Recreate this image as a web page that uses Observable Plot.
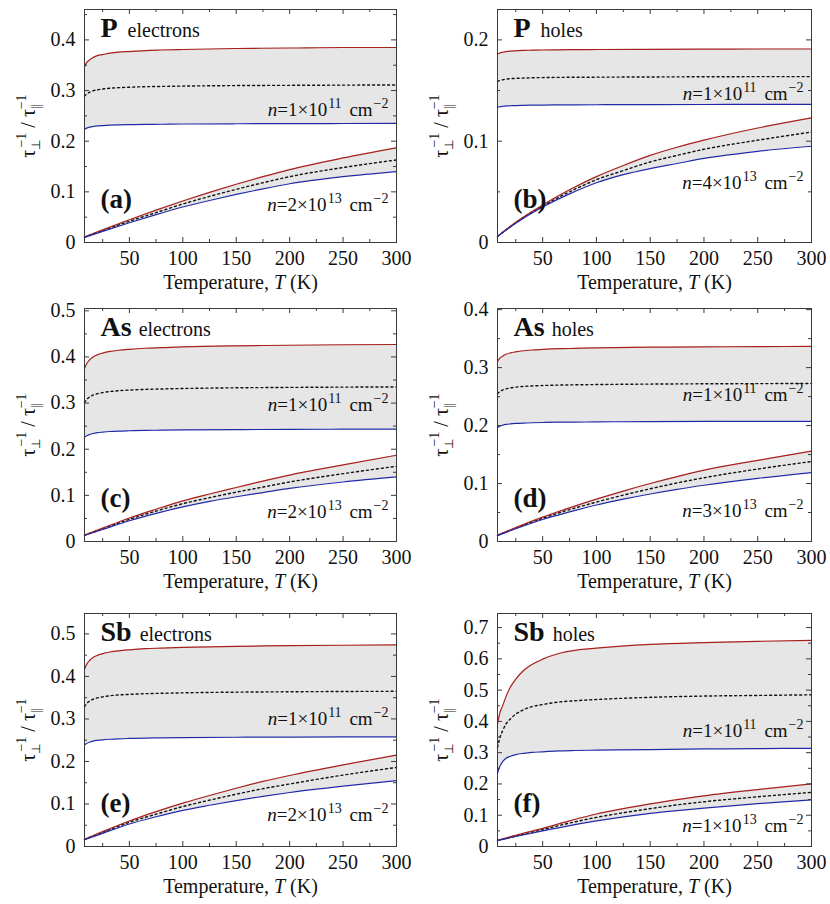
<!DOCTYPE html>
<html>
<head>
<meta charset="utf-8">
<script src="https://cdn.jsdelivr.net/npm/d3@7"></script>
<script src="https://cdn.jsdelivr.net/npm/@observablehq/plot@0.6"></script>
<style>
  html, body { margin: 0; padding: 0; background: #fff; }
  #wrap { position: relative; width: 830px; height: 904px; overflow: hidden; }
  #wrap svg { position: absolute; font-family: "Liberation Serif", serif !important; }
  #wrap svg text, #wrap svg tspan { font-family: "Liberation Serif", serif; }
</style>
</head>
<body>
<div id="wrap"></div>
<script>
// ---------------- data ----------------
// temperature grids (K)
const T_lowN = [8, 10, 13, 16, 20, 25, 32, 40, 50, 65, 80, 100, 150, 200, 250, 300];   // n = 1e11 band
const T_highN = [8, 25, 50, 75, 100, 125, 150, 175, 200, 250, 300];                    // high-n band

// axis tick values
const xTicksMajor = [50, 100, 150, 200, 250, 300];
const xTicksMinor = [25, 75, 125, 175, 225, 275];
const yTicks_a = [0, 0.1, 0.2, 0.3, 0.4];
const yMinor_a = [0.05, 0.15, 0.25, 0.35, 0.45];
const yTicks_b = [0, 0.1, 0.2];
const yMinor_b = [0.05, 0.15];
const yTicks_c = [0, 0.1, 0.2, 0.3, 0.4, 0.5];
const yMinor_c = [0.05, 0.15, 0.25, 0.35, 0.45];
const yTicks_d = [0, 0.1, 0.2, 0.3, 0.4];
const yMinor_d = [0.05, 0.15, 0.25, 0.35];
const yTicks_e = [0, 0.1, 0.2, 0.3, 0.4, 0.5];
const yMinor_e = [0.05, 0.15, 0.25, 0.35, 0.45];
const yTicks_f = [0, 0.1, 0.2, 0.3, 0.4, 0.5, 0.6, 0.7];
const yMinor_f = [0.05, 0.15, 0.25, 0.35, 0.45, 0.55, 0.65];

// (a) P electrons
const P_e_lowN_max = [0.347, 0.355, 0.361, 0.365, 0.369, 0.371, 0.374, 0.376, 0.377, 0.379, 0.380, 0.381, 0.383, 0.384, 0.385, 0.385];
const P_e_lowN_avg = [0.289, 0.293, 0.297, 0.2995, 0.3015, 0.303, 0.3045, 0.3057, 0.3066, 0.3076, 0.3081, 0.3088, 0.3098, 0.3103, 0.3107, 0.311];
const P_e_lowN_min = [0.2235, 0.2258, 0.2278, 0.229, 0.2301, 0.2309, 0.2317, 0.2322, 0.2327, 0.2332, 0.2335, 0.2339, 0.2344, 0.2347, 0.2349, 0.235];
const P_e_highN_max = [0.011, 0.025, 0.045, 0.064, 0.082, 0.099, 0.115, 0.130, 0.144, 0.167, 0.187];
const P_e_highN_avg = [0.0105, 0.0235, 0.042, 0.059, 0.076, 0.091, 0.105, 0.118, 0.130, 0.148, 0.163];
const P_e_highN_min = [0.010, 0.022, 0.039, 0.055, 0.070, 0.083, 0.095, 0.106, 0.116, 0.130, 0.140];

// (b) P holes
const P_h_lowN_max = [0.186, 0.187, 0.1878, 0.1884, 0.1889, 0.1892, 0.1896, 0.1898, 0.19, 0.1902, 0.1904, 0.1905, 0.1907, 0.1909, 0.191, 0.191];
const P_h_lowN_avg = [0.159, 0.1599, 0.1607, 0.1613, 0.1617, 0.162, 0.1623, 0.1626, 0.1628, 0.163, 0.1631, 0.1632, 0.1634, 0.1636, 0.1637, 0.1637];
const P_h_lowN_min = [0.1334, 0.134, 0.1345, 0.1348, 0.135, 0.1352, 0.1354, 0.1356, 0.1357, 0.1358, 0.1359, 0.136, 0.1361, 0.1362, 0.1363, 0.1363];
const P_h_highN_max = [0.006, 0.020, 0.037, 0.052, 0.065, 0.076, 0.086, 0.094, 0.101, 0.113, 0.123];
const P_h_highN_avg = [0.006, 0.0195, 0.036, 0.050, 0.062, 0.071, 0.0795, 0.086, 0.092, 0.101, 0.109];
const P_h_highN_min = [0.006, 0.019, 0.035, 0.048, 0.059, 0.067, 0.073, 0.078, 0.083, 0.090, 0.095];

// (c) As electrons
const As_e_lowN_max = [0.375, 0.3854, 0.3942, 0.400, 0.4046, 0.4083, 0.4119, 0.4145, 0.4166, 0.4189, 0.4202, 0.4218, 0.4241, 0.4254, 0.4264, 0.427];
const As_e_lowN_avg = [0.301, 0.3078, 0.3136, 0.3173, 0.3204, 0.3228, 0.3251, 0.3268, 0.3282, 0.3297, 0.3306, 0.3316, 0.3331, 0.334, 0.3346, 0.335];
const As_e_lowN_min = [0.2254, 0.229, 0.232, 0.234, 0.2359, 0.2371, 0.2384, 0.2393, 0.24, 0.2408, 0.2413, 0.2418, 0.2426, 0.2431, 0.2434, 0.2436];
const As_e_highN_max = [0.014, 0.029, 0.051, 0.070, 0.088, 0.103, 0.117, 0.131, 0.144, 0.166, 0.187];
const As_e_highN_avg = [0.0135, 0.0275, 0.048, 0.066, 0.082, 0.095, 0.107, 0.118, 0.129, 0.147, 0.163];
const As_e_highN_min = [0.013, 0.026, 0.045, 0.061, 0.075, 0.087, 0.097, 0.106, 0.115, 0.129, 0.140];

// (d) As holes
const As_h_lowN_max = [0.3106, 0.3158, 0.3202, 0.3231, 0.3254, 0.3272, 0.3291, 0.3304, 0.3314, 0.3326, 0.3332, 0.334, 0.3352, 0.3358, 0.3363, 0.3366];
const As_h_lowN_avg = [0.255, 0.2585, 0.2615, 0.2634, 0.265, 0.2663, 0.2675, 0.2684, 0.2691, 0.2699, 0.2703, 0.2708, 0.2716, 0.2721, 0.2724, 0.2726];
const As_h_lowN_min = [0.197, 0.1991, 0.2008, 0.202, 0.2029, 0.2037, 0.2044, 0.2049, 0.2053, 0.2058, 0.206, 0.2064, 0.2068, 0.2071, 0.2073, 0.2074];
const As_h_highN_max = [0.011, 0.024, 0.042, 0.058, 0.073, 0.087, 0.100, 0.112, 0.123, 0.140, 0.156];
const As_h_highN_avg = [0.0105, 0.023, 0.040, 0.055, 0.068, 0.080, 0.091, 0.101, 0.110, 0.125, 0.138];
const As_h_highN_min = [0.010, 0.022, 0.038, 0.051, 0.063, 0.073, 0.082, 0.090, 0.097, 0.109, 0.119];

// (e) Sb electrons
const Sb_e_lowN_max = [0.417, 0.4284, 0.4381, 0.4444, 0.4495, 0.4535, 0.4575, 0.4603, 0.4626, 0.4652, 0.4666, 0.4683, 0.4709, 0.4723, 0.4733, 0.474];
const Sb_e_lowN_avg = [0.329, 0.3362, 0.3423, 0.3463, 0.3495, 0.352, 0.3546, 0.3564, 0.3578, 0.3594, 0.3603, 0.3614, 0.363, 0.3639, 0.3646, 0.365];
const Sb_e_lowN_min = [0.2385, 0.2424, 0.2457, 0.2479, 0.2496, 0.251, 0.2523, 0.2533, 0.2541, 0.255, 0.2555, 0.256, 0.2569, 0.2574, 0.2578, 0.258];
const Sb_e_highN_max = [0.017, 0.035, 0.060, 0.082, 0.102, 0.120, 0.137, 0.153, 0.167, 0.192, 0.215];
const Sb_e_highN_avg = [0.0165, 0.033, 0.057, 0.076, 0.094, 0.109, 0.123, 0.136, 0.147, 0.168, 0.186];
const Sb_e_highN_min = [0.016, 0.031, 0.053, 0.070, 0.085, 0.097, 0.108, 0.118, 0.127, 0.142, 0.155];

// (f) Sb holes
const Sb_h_lowN_max = [0.392, 0.425, 0.452, 0.48, 0.51, 0.535, 0.562, 0.582, 0.599, 0.617, 0.627, 0.634, 0.646, 0.652, 0.656, 0.659];
const Sb_h_lowN_avg = [0.317, 0.345, 0.372, 0.392, 0.408, 0.423, 0.437, 0.447, 0.454, 0.462, 0.466, 0.47, 0.477, 0.481, 0.483, 0.485];
const Sb_h_lowN_min = [0.234, 0.255, 0.272, 0.282, 0.2885, 0.294, 0.298, 0.301, 0.3028, 0.3058, 0.307, 0.308, 0.31, 0.312, 0.313, 0.314];
const Sb_h_highN_max = [0.020, 0.036, 0.058, 0.082, 0.104, 0.121, 0.136, 0.150, 0.162, 0.182, 0.200];
const Sb_h_highN_avg = [0.0195, 0.034, 0.054, 0.075, 0.093, 0.108, 0.121, 0.133, 0.143, 0.159, 0.173];
const Sb_h_highN_min = [0.019, 0.032, 0.050, 0.067, 0.082, 0.095, 0.106, 0.115, 0.123, 0.137, 0.149];

// panel labels
const elements = ["P", "P", "As", "As", "Sb", "Sb"];
const carriers = ["electrons", "holes", "electrons", "holes", "electrons", "holes"];
const tags = ["(a)", "(b)", "(c)", "(d)", "(e)", "(f)"];
const highNmant = ["2", "4", "2", "3", "2", "1"];
const highNexp = ["13", "13", "13", "13", "13", "13"];
const lowNmant = "1";
const lowNexp = "11";

// ---------------- layout / style ----------------
const FONT = "Liberation Serif";
const RED = "#a8201c";
const BLUE = "#1f2aa6";
const FILL = "#e6e6e6";
const INK = "#111";
const FRAME = "#3a3a3a";

const panels = [
  {col: 0, row: 0, yMax: 0.46, yT: yTicks_a, yM: yMinor_a, d: [P_e_lowN_max, P_e_lowN_avg, P_e_lowN_min, P_e_highN_max, P_e_highN_avg, P_e_highN_min], labUp: 0.2505, labLo: 0.063, gap: 5},
  {col: 1, row: 0, yMax: 0.23, yT: yTicks_b, yM: yMinor_b, d: [P_h_lowN_max, P_h_lowN_avg, P_h_lowN_min, P_h_highN_max, P_h_highN_avg, P_h_highN_min], labUp: 0.1406, labLo: 0.0532, gap: 5},
  {col: 0, row: 1, yMax: 0.505, yT: yTicks_c, yM: yMinor_c, d: [As_e_lowN_max, As_e_lowN_avg, As_e_lowN_min, As_e_highN_max, As_e_highN_avg, As_e_highN_min], labUp: 0.283, labLo: 0.052, gap: 2},
  {col: 1, row: 1, yMax: 0.402, yT: yTicks_d, yM: yMinor_d, d: [As_h_lowN_max, As_h_lowN_avg, As_h_lowN_min, As_h_highN_max, As_h_highN_avg, As_h_highN_min], labUp: 0.243, labLo: 0.0415, gap: 2},
  {col: 0, row: 2, yMax: 0.548, yT: yTicks_e, yM: yMinor_e, d: [Sb_e_lowN_max, Sb_e_lowN_avg, Sb_e_lowN_min, Sb_e_highN_max, Sb_e_highN_avg, Sb_e_highN_min], labUp: 0.286, labLo: 0.0605, gap: 3},
  {col: 1, row: 2, yMax: 0.745, yT: yTicks_f, yM: yMinor_f, d: [Sb_h_lowN_max, Sb_h_lowN_avg, Sb_h_lowN_min, Sb_h_highN_max, Sb_h_highN_avg, Sb_h_highN_min], labUp: 0.349, labLo: 0.045, gap: 3}
];

const rowTops = [0, 299, 604];
const colLefts = [0, 415];

function rich(el, parts) {
  el.textContent = "";
  let cur = 0;
  for (const p of parts) {
    const ts = document.createElementNS("http://www.w3.org/2000/svg", "tspan");
    ts.textContent = p.t;
    const shift = p.shift || 0;
    if (shift !== cur) { ts.setAttribute("dy", shift - cur); cur = shift; }
    if (p.dx) ts.setAttribute("dx", p.dx);
    if (p.size) ts.setAttribute("font-size", p.size);
    if (p.bold) ts.setAttribute("font-weight", "bold");
    if (p.italic) ts.setAttribute("font-style", "italic");
    el.appendChild(ts);
  }
}

function nLabel(mant, exp) {
  return [
    {t: "n", italic: true},
    {t: "=" + mant + "×10"},
    {t: exp, size: 14, shift: -8, dx: 1},
    {t: " cm", shift: 0, dx: 3},
    {t: "−2", size: 14, shift: -8, dx: 1}
  ];
}

const fmt = d => String(d);
const wrap = document.getElementById("wrap");

panels.forEach((p, i) => {
  const W = 415, H = 300;
  const mL = p.col === 0 ? 84 : 82, mR = 19, mT = 9, mB = 58;
  const iw = W - mL - mR, ih = H - mT - mB;
  const bandLow = T_lowN.map((t, k) => ({T: t, hi: p.d[0][k], mid: p.d[1][k], lo: p.d[2][k]}));
  const bandHigh = T_highN.map((t, k) => ({T: t, hi: p.d[3][k], mid: p.d[4][k], lo: p.d[5][k]}));
  const curve = "monotone-x";
  const lineMarks = [];
  for (const band of [bandLow, bandHigh]) {
    lineMarks.push(Plot.areaY(band, {x: "T", y1: "lo", y2: "hi", fill: FILL, curve}));
  }
  for (const band of [bandLow, bandHigh]) {
    lineMarks.push(Plot.line(band, {x: "T", y: "mid", stroke: INK, strokeWidth: 1.4, strokeDasharray: "2,3", curve}));
    lineMarks.push(Plot.line(band, {x: "T", y: "hi", stroke: RED, strokeWidth: 1.2, curve}));
    lineMarks.push(Plot.line(band, {x: "T", y: "lo", stroke: BLUE, strokeWidth: 1.2, curve}));
  }
  const tickMarks = [
    Plot.tickY(p.yT, {y: d => d, insetRight: iw - 5, stroke: FRAME}),
    Plot.tickY(p.yT, {y: d => d, insetLeft: iw - 5, stroke: FRAME}),
    Plot.tickY(p.yM, {y: d => d, insetRight: iw - 3, stroke: FRAME}),
    Plot.tickY(p.yM, {y: d => d, insetLeft: iw - 3, stroke: FRAME}),
    Plot.tickX(xTicksMajor, {x: d => d, insetTop: ih - 5, stroke: FRAME}),
    Plot.tickX(xTicksMajor, {x: d => d, insetBottom: ih - 5, stroke: FRAME}),
    Plot.tickX(xTicksMinor, {x: d => d, insetTop: ih - 3, stroke: FRAME}),
    Plot.tickX(xTicksMinor, {x: d => d, insetBottom: ih - 3, stroke: FRAME})
  ];
  const svg = Plot.plot({
    width: W, height: H,
    marginLeft: mL, marginRight: mR, marginTop: mT, marginBottom: mB,
    x: {domain: [8, 300]},
    y: {domain: [0, p.yMax]},
    style: "font-family: 'Liberation Serif', serif; font-size: 20px; color: #111; background: transparent; overflow: visible;",
    marks: [
      ...lineMarks,
      ...tickMarks,
      Plot.frame({stroke: FRAME, strokeWidth: 1}),
      Plot.axisX(xTicksMajor, {tickSize: 0, tickPadding: 8, fontSize: 20, fontFamily: FONT, tickFormat: fmt, label: null}),
      Plot.axisY(p.yT, {tickSize: 0, tickPadding: 9, fontSize: 20, fontFamily: FONT, tickFormat: fmt, label: null}),
      Plot.text(["§title"], {frameAnchor: "top-left", dx: 16, dy: 27, lineAnchor: "bottom", textAnchor: "start", fontSize: 20, fontFamily: FONT, fill: INK}),
      Plot.text(["§tag"], {frameAnchor: "bottom-left", dx: 16, dy: -35, lineAnchor: "bottom", textAnchor: "start", fontSize: 27, fontWeight: "bold", fontFamily: FONT, fill: INK}),
      Plot.text([{T: 300, v: p.labUp, k: "§nUp"}], {x: "T", y: "v", text: "k", dx: -8, lineAnchor: "bottom", textAnchor: "end", fontSize: 19, fontFamily: FONT, fill: INK}),
      Plot.text([{T: 300, v: p.labLo, k: "§nLo"}], {x: "T", y: "v", text: "k", dx: -8, lineAnchor: "bottom", textAnchor: "end", fontSize: 19, fontFamily: FONT, fill: INK}),
      Plot.text(["§xlab"], {frameAnchor: "bottom", dy: 40, lineAnchor: "middle", fontSize: 20, fontFamily: FONT, fill: INK}),
      Plot.text(["§ylab"], {frameAnchor: "left", dx: -56, rotate: -90, lineAnchor: "middle", textAnchor: "middle", fontSize: 20, fontFamily: FONT, fill: INK})
    ]
  });
  const map = {
    "§title": [{t: elements[i], bold: true, size: 28}, {t: " " + carriers[i], dx: p.gap}],
    "§tag": [{t: tags[i]}],
    "§nUp": nLabel(lowNmant, lowNexp),
    "§nLo": nLabel(highNmant[i], highNexp[i]),
    "§xlab": [{t: "Temperature, "}, {t: "T", italic: true}, {t: " (K)"}],
    "§ylab": [
      {t: "τ"}, {t: "⊥", size: 12, shift: 5}, {t: "−1", size: 14, shift: -9, dx: -8},
      {t: " / τ", shift: 0}, {t: "||", size: 12, shift: 5}, {t: "−1", size: 14, shift: -9, dx: -5}
    ]
  };
  d3.select(svg).selectAll("text").each(function () {
    const k = this.textContent;
    if (map[k]) rich(this, map[k]);
  });
  svg.style.left = colLefts[p.col] + "px";
  svg.style.top = rowTops[p.row] + "px";
  wrap.appendChild(svg);
});
</script>
</body>
</html>
